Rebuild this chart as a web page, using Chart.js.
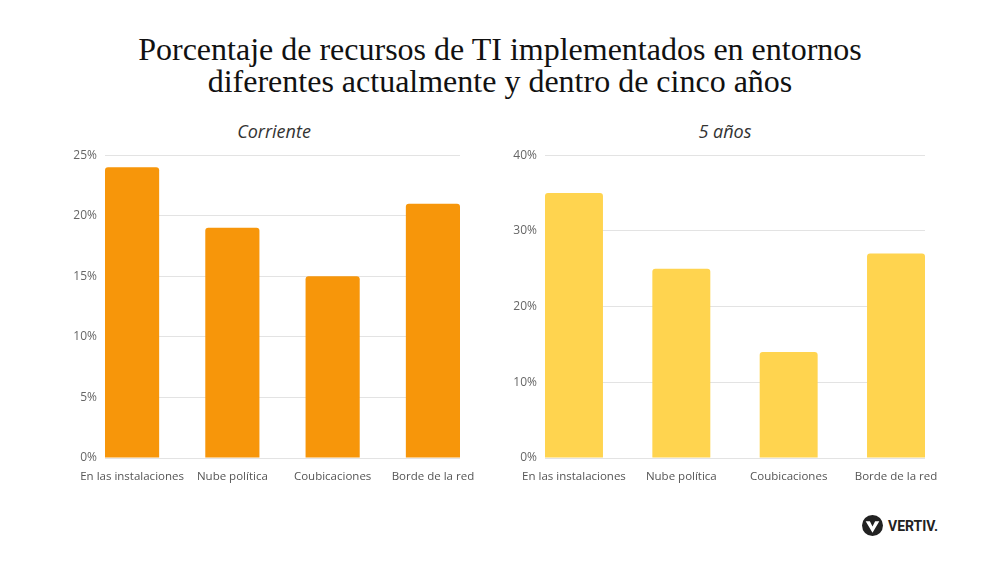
<!DOCTYPE html>
<html>
<head>
<meta charset="utf-8">
<script src="https://cdn.jsdelivr.net/npm/chart.js@4.4.1/dist/chart.umd.min.js"></script>
<style>
  body { margin: 0; background: #fff; }
  #page { position: relative; width: 1000px; height: 563px; overflow: hidden; background: #fff; }
  .title { position: absolute; left: 0; width: 1000px; top: 33px; text-align: center;
           font-family: "Liberation Serif", "DejaVu Serif", serif; font-size: 32px; line-height: 32px; color: #111; }
  .sub { position: absolute; top: 119px; font-family: "Open Sans", sans-serif; font-style: italic;
         font-size: 18px; color: #333; text-align: center; width: 300px; }
  .box { position: absolute; }
  .logo { position: absolute; left: 862px; top: 515px; display: flex; align-items: center;
          font-family: "Liberation Sans Narrow", "Roboto", sans-serif; font-weight: bold; font-size: 14px; color: #222; }
</style>
</head>
<body>
<div id="page">
  <div class="title">Porcentaje de recursos de TI implementados en entornos<br>diferentes actualmente y dentro de cinco años</div>
  <div class="sub" style="left:124px">Corriente</div>
  <div class="sub" style="left:575px">5 años</div>
  <div class="box" style="left:40px; top:140px; width:440px; height:360px;"><canvas id="leftChart"></canvas></div>
  <div class="box" style="left:480px; top:140px; width:480px; height:360px;"><canvas id="rightChart"></canvas></div>
  <div class="logo">
    <svg width="21" height="21" viewBox="0 0 20 20" style="margin-right:5px">
      <circle cx="10" cy="10" r="10" fill="#222"/>
      <path d="M3.5 6 L10 17 L16.5 6 L12.5 6 L10 11 L7.5 6 Z" fill="#fff"/>
    </svg>VERTIV.
  </div>
</div>
<script>
// Datos
const categorias = ['En las instalaciones', 'Nube política', 'Coubicaciones', 'Borde de la red'];
const corriente = [24, 19, 15, 21];
const cincoAnos = [35, 25, 14, 27];

function crearGrafico(id, valores, color, maxY, paso, yWidth, padRight) {
    const ctx = document.getElementById(id).getContext('2d');
    return new Chart(ctx, {
        type: 'bar',
        data: {
            datasets: [{
                data: valores.map((v, i) => ({ x: i, y: v })),
                backgroundColor: color,
                borderRadius: { topLeft: 3, topRight: 3 },
                borderSkipped: 'bottom',
                barPercentage: 0.54,
                categoryPercentage: 1
            }]
        },
        options: {
            responsive: true,
            maintainAspectRatio: false,
            animation: false,
            layout: { padding: { top: 11, right: padRight, bottom: 12, left: 0 } },
            plugins: { legend: { display: false }, tooltip: { enabled: false } },
            scales: {
                x: {
                    type: 'linear',
                    offset: false,
                    min: -0.27,
                    max: categorias.length - 1 + 0.27,
                    afterBuildTicks: s => { s.ticks = categorias.map((c, i) => ({ value: i })); },
                    afterFit: s => { s.height = 30; },
                    grid: { display: false, offset: false },
                    border: { display: false },
                    ticks: {
                        autoSkip: false,
                        maxRotation: 0,
                        padding: 4,
                        color: '#555',
                        font: { family: 'Open Sans', size: 11.5 },
                        callback: v => categorias[v]
                    }
                },
                y: {
                    min: 0,
                    max: maxY,
                    afterFit: s => { s.width = yWidth; },
                    ticks: {
                        stepSize: paso,
                        padding: 8,
                        color: '#666',
                        font: { family: 'Open Sans', size: 12 },
                        callback: v => v + '%'
                    },
                    grid: { color: '#e3e3e3', drawTicks: false },
                    border: { display: false }
                }
            }
        }
    });
}

crearGrafico('leftChart', corriente, '#F7960A', 25, 5, 65, 20);
crearGrafico('rightChart', cincoAnos, '#FFD44F', 40, 10, 65, 35);
</script>
</body>
</html>
